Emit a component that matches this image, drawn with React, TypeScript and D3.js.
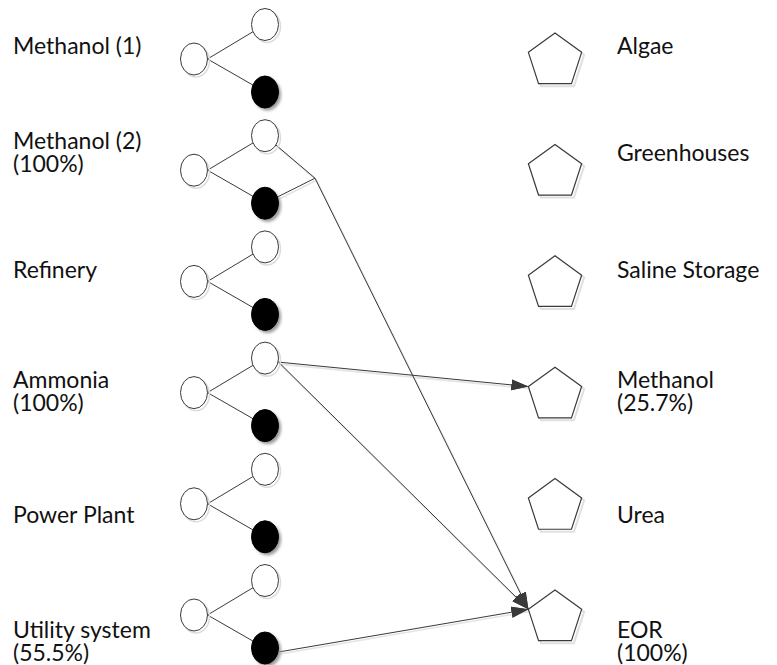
import React from "react";
import * as d3 from "d3";

const sourceNames = ["Methanol (1)", "Methanol (2)", "Refinery", "Ammonia", "Power Plant", "Utility system"];
const sourceShares = ["", "(100%)", "", "(100%)", "", "(55.5%)"];
const sinkNames = ["Algae", "Greenhouses", "Saline Storage", "Methanol", "Urea", "EOR"];
const sinkShares = ["", "", "", "(25.7%)", "", "(100%)"];
// links: from source index (through its output port) to sink index
const linkSources = [1, 3, 3, 5];
const linkPorts = ["both", "upper", "upper", "lower"];
const linkSinks = [5, 3, 5, 5];

const W = 777;
const H = 665;
const FONT = "Lato, 'Open Sans', sans-serif";
const STROKE = "#3a3a3a";
const FS = 23;

export default function App() {
  const rows = d3.range(sourceNames.length);
  const rowY = d3.scaleLinear().domain([0, 5]).range([59, 615]);
  const sinkY = d3.scaleLinear().domain([0, 5]).range([61, 618]);
  const textY = d3.scalePow().exponent(1.067).domain([0, 5]).range([46, 641]);
  const srcX = 194;
  const outX = 265;
  const sinkX = 555;
  const rx = 13.5;
  const ry = 16;
  const R = 28;
  const upDy = -34.5;
  const loDy = 33;
  const lineGap = 23;

  const pent = (cx: number, cy: number) =>
    d3.range(5).map((k) => {
      const a = (-90 + 72 * k) * (Math.PI / 180);
      return [cx + R * Math.cos(a), cy + R * Math.sin(a)] as [number, number];
    });
  const pentPath = (cx: number, cy: number) => "M" + pent(cx, cy).map((p) => p.join(",")).join("L") + "Z";
  const leftVertex = (i: number) => pent(sinkX, sinkY(i))[4];

  const line = d3.line();

  const links = linkSources.map((s, k) => {
    const tip = leftVertex(linkSinks[k]);
    const port = linkPorts[k];
    if (port === "both") {
      const j: [number, number] = [outX + 50, rowY(s) + 8];
      return {
        plain: [
          line([[outX, rowY(s) + upDy], j]),
          line([[outX, rowY(s) + loDy], j]),
        ],
        arrow: line([j, tip]),
      };
    }
    const oy = rowY(s) + (port === "upper" ? upDy : loDy);
    return { plain: [], arrow: line([[outX + rx, oy + 4], tip]) };
  });

  const label = (x: number, i: number, name: string, share: string, key: string) => {
    const c = textY(i);
    if (!share) {
      return (
        <text key={key} x={x} y={c} dy="0.35em" fontSize={FS} fontFamily={FONT} fill="#111">
          {name}
        </text>
      );
    }
    return (
      <g key={key}>
        <text x={x} y={c - lineGap / 2} dy="0.35em" fontSize={FS} fontFamily={FONT} fill="#111">
          {name}
        </text>
        <text x={x} y={c + lineGap / 2} dy="0.35em" fontSize={FS} fontFamily={FONT} fill="#111">
          {share}
        </text>
      </g>
    );
  };

  return (
    <svg
      width={W}
      height={H}
      viewBox={`0 0 ${W} ${H}`}
      style={{ position: "absolute", left: 0, top: 0, background: "#fff", display: "block" }}
    >
      <defs>
        <marker
          id="arr"
          markerUnits="userSpaceOnUse"
          markerWidth={18}
          markerHeight={12}
          refX={17}
          refY={6}
          orient="auto"
        >
          <path d="M0,0.5 L17,6 L0,11.5 Z" fill="#3a3a3a" />
        </marker>
        <filter id="blur" x="-50%" y="-50%" width="200%" height="200%">
          <feGaussianBlur stdDeviation={1.5} />
        </filter>
      </defs>
      <rect width={W} height={H} fill="#fff" />

      {/* link shadows */}
      {links.map((l, k) => (
        <g key={"ls" + k} transform="translate(1.5,2)" stroke="#e4e4e4" strokeWidth={1.6} fill="none">
          {l.plain.map((d, m) => (
            <path key={m} d={d || ""} />
          ))}
          <path d={l.arrow || ""} />
        </g>
      ))}

      {/* internal source edges */}
      {rows.map((i) => (
        <g key={"e" + i} stroke={STROKE} strokeWidth={1} fill="none">
          <path d={line([[srcX + rx, rowY(i)], [outX, rowY(i) + upDy]]) || ""} />
          <path d={line([[srcX + rx, rowY(i)], [outX, rowY(i) + loDy]]) || ""} />
        </g>
      ))}

      {/* links */}
      {links.map((l, k) => (
        <g key={"l" + k} stroke={STROKE} strokeWidth={1} fill="none">
          {l.plain.map((d, m) => (
            <path key={m} d={d || ""} />
          ))}
          <path d={l.arrow || ""} markerEnd="url(#arr)" />
        </g>
      ))}

      {/* source nodes */}
      {rows.map((i) => (
        <g key={"n" + i}>
          <ellipse cx={srcX + 2} cy={rowY(i) + 2} rx={rx} ry={ry} fill="none" stroke="#dcdcdc" strokeWidth={1.5} />
          <ellipse cx={srcX} cy={rowY(i)} rx={rx} ry={ry} fill="#fff" stroke={STROKE} strokeWidth={1} />
          <ellipse cx={outX + 2} cy={rowY(i) + upDy + 2} rx={rx} ry={ry} fill="none" stroke="#dcdcdc" strokeWidth={1.5} />
          <ellipse cx={outX} cy={rowY(i) + upDy} rx={rx} ry={ry} fill="#fff" stroke={STROKE} strokeWidth={1} />
          <ellipse cx={outX + 2.5} cy={rowY(i) + loDy + 2.5} rx={rx} ry={ry} fill="#999" filter="url(#blur)" />
          <ellipse cx={outX} cy={rowY(i) + loDy} rx={rx} ry={ry} fill="#000" stroke="#000" strokeWidth={1} />
        </g>
      ))}

      {/* sinks */}
      {rows.map((i) => (
        <g key={"s" + i}>
          <path d={pentPath(sinkX + 2.5, sinkY(i) + 2.5)} fill="none" stroke="#e0e0e0" strokeWidth={2} />
          <path d={pentPath(sinkX, sinkY(i))} fill="#fff" stroke={STROKE} strokeWidth={1.2} />
        </g>
      ))}

      {/* redraw arrowheads over sinks */}
      {links.map((l, k) => (
        <path key={"a" + k} d={l.arrow || ""} stroke="none" fill="none" markerEnd="url(#arr)" />
      ))}

      {rows.map((i) => label(13, i, sourceNames[i], sourceShares[i], "tl" + i))}
      {rows.map((i) => label(617, i, sinkNames[i], sinkShares[i], "tr" + i))}
    </svg>
  );
}
